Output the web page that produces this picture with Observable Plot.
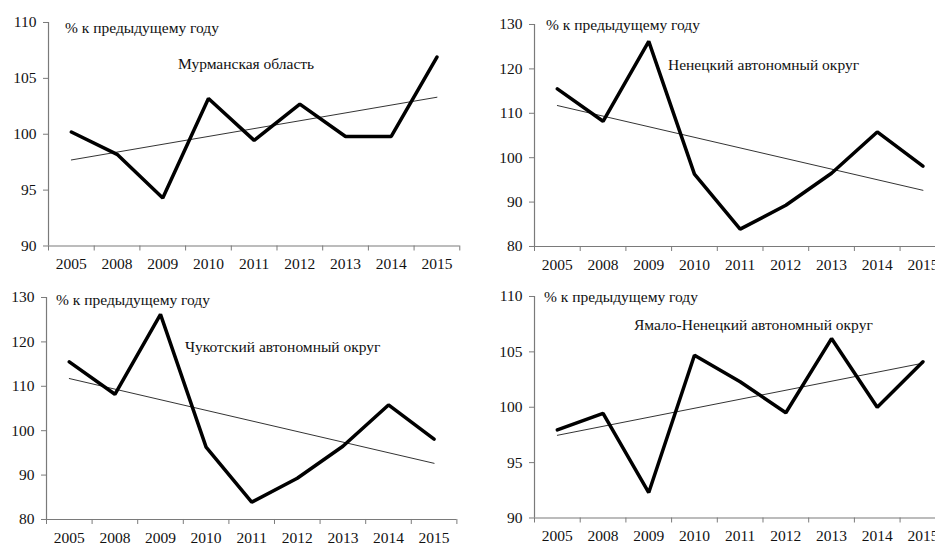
<!DOCTYPE html>
<html>
<head>
<meta charset="utf-8">
<script src="https://cdn.jsdelivr.net/npm/d3@7"></script>
<script src="https://cdn.jsdelivr.net/npm/@observablehq/plot@0.6"></script>
<style>
  html, body { margin: 0; padding: 0; background: #fff; }
  #root { position: relative; width: 935px; height: 545px; overflow: hidden; background: #fff;
          font-family: "Liberation Serif", "DejaVu Serif", serif; color: #111; }
  .panel { position: absolute; }
  .note { position: absolute; white-space: nowrap; font-size: 15.5px; line-height: 1; transform: translateY(-50%); }
</style>
</head>
<body>
<div id="root"></div>
<script>
// ---- data ----
const years = ["2005", "2008", "2009", "2010", "2011", "2012", "2013", "2014", "2015"];
const murmansk = [100.2, 98.2, 94.3, 103.2, 99.45, 102.7, 99.8, 99.8, 106.9];
const nenets   = [115.5, 108.2, 126.2, 96.3, 83.9, 89.3, 96.5, 105.8, 98.1];
const chukotka = [115.5, 108.2, 126.2, 96.3, 83.9, 89.3, 96.5, 105.8, 98.1];
const yamal    = [97.95, 99.45, 92.3, 104.7, 102.3, 99.5, 106.2, 100.0, 104.1];
const yLabel = "% к предыдущему году";
const titles = ["Мурманская область", "Ненецкий автономный округ", "Чукотский автономный округ", "Ямало-Ненецкий автономный округ"];
const domainA = [90, 110], ticksA = [90, 95, 100, 105, 110];
const domainB = [80, 130], ticksB = [80, 90, 100, 110, 120, 130];

// ---- layout (pixels) ----
const panels = [
  {values: murmansk, domain: domainA, ticks: ticksA, ax: 48,    top: 22,  bottom: 245.5, band: 45.7, title: titles[0],
   pct: [65, 28], tt: [178, 64]},
  {values: nenets,   domain: domainB, ticks: ticksB, ax: 533.5, top: 23.5, bottom: 245.5, band: 45.7, title: titles[1],
   pct: [546, 25], tt: [668, 65]},
  {values: chukotka, domain: domainB, ticks: ticksB, ax: 45.5,  top: 297, bottom: 519,   band: 45.6, title: titles[2],
   pct: [56, 300], tt: [185, 347]},
  {values: yamal,    domain: domainA, ticks: ticksA, ax: 533.5, top: 296, bottom: 517.5, band: 45.7, title: titles[3],
   pct: [544, 297], tt: [634, 325]}
];

const root = document.getElementById("root");
const ml = 50, mr = 20, mt = 15, mb = 35;
const axisColor = "#7a7a7a";

for (const p of panels) {
  const data = p.values.map((v, i) => ({x: i + 0.5, y: v, year: years[i]}));
  const plotW = p.band * years.length;
  const plotH = p.bottom - p.top;
  const chart = Plot.plot({
    width: ml + plotW + mr,
    height: mt + plotH + mb,
    marginLeft: ml, marginRight: mr, marginTop: mt, marginBottom: mb,
    x: {domain: [0, years.length], axis: null},
    y: {domain: p.domain, axis: null},
    style: {fontFamily: "Liberation Serif, DejaVu Serif, serif", fontSize: "15.5px", color: "#111", background: "transparent", overflow: "visible"},
    marks: [
      Plot.axisY({ticks: p.ticks, tickSize: 5, tickPadding: 7, stroke: axisColor, fill: "#111", label: null, tickFormat: d3.format("d")}),
      Plot.axisX({ticks: d3.range(years.length + 1), tickSize: 5, stroke: axisColor, label: null, tickFormat: () => ""}),
      Plot.axisX({ticks: data.map(d => d.x), tickSize: 0, tickPadding: 12, fill: "#111", label: null, tickFormat: d => years[Math.floor(d)]}),
      Plot.ruleX([0], {stroke: axisColor, strokeWidth: 1.2}),
      Plot.ruleY([p.domain[0]], {stroke: axisColor, strokeWidth: 1.2}),
      Plot.linearRegressionY(data, {x: "x", y: "y", ci: 0, stroke: "#333", strokeWidth: 1}),
      Plot.line(data, {x: "x", y: "y", stroke: "#000", strokeWidth: 3.5, strokeLinejoin: "miter"})
    ]
  });
  chart.classList.add("panel");
  chart.style.left = (p.ax - ml) + "px";
  chart.style.top = (p.top - mt) + "px";
  root.appendChild(chart);

  const n1 = document.createElement("div");
  n1.className = "note"; n1.textContent = yLabel;
  n1.style.left = p.pct[0] + "px"; n1.style.top = p.pct[1] + "px";
  root.appendChild(n1);
  const n2 = document.createElement("div");
  n2.className = "note"; n2.textContent = p.title;
  n2.style.left = p.tt[0] + "px"; n2.style.top = p.tt[1] + "px";
  root.appendChild(n2);
}
</script>
</body>
</html>
